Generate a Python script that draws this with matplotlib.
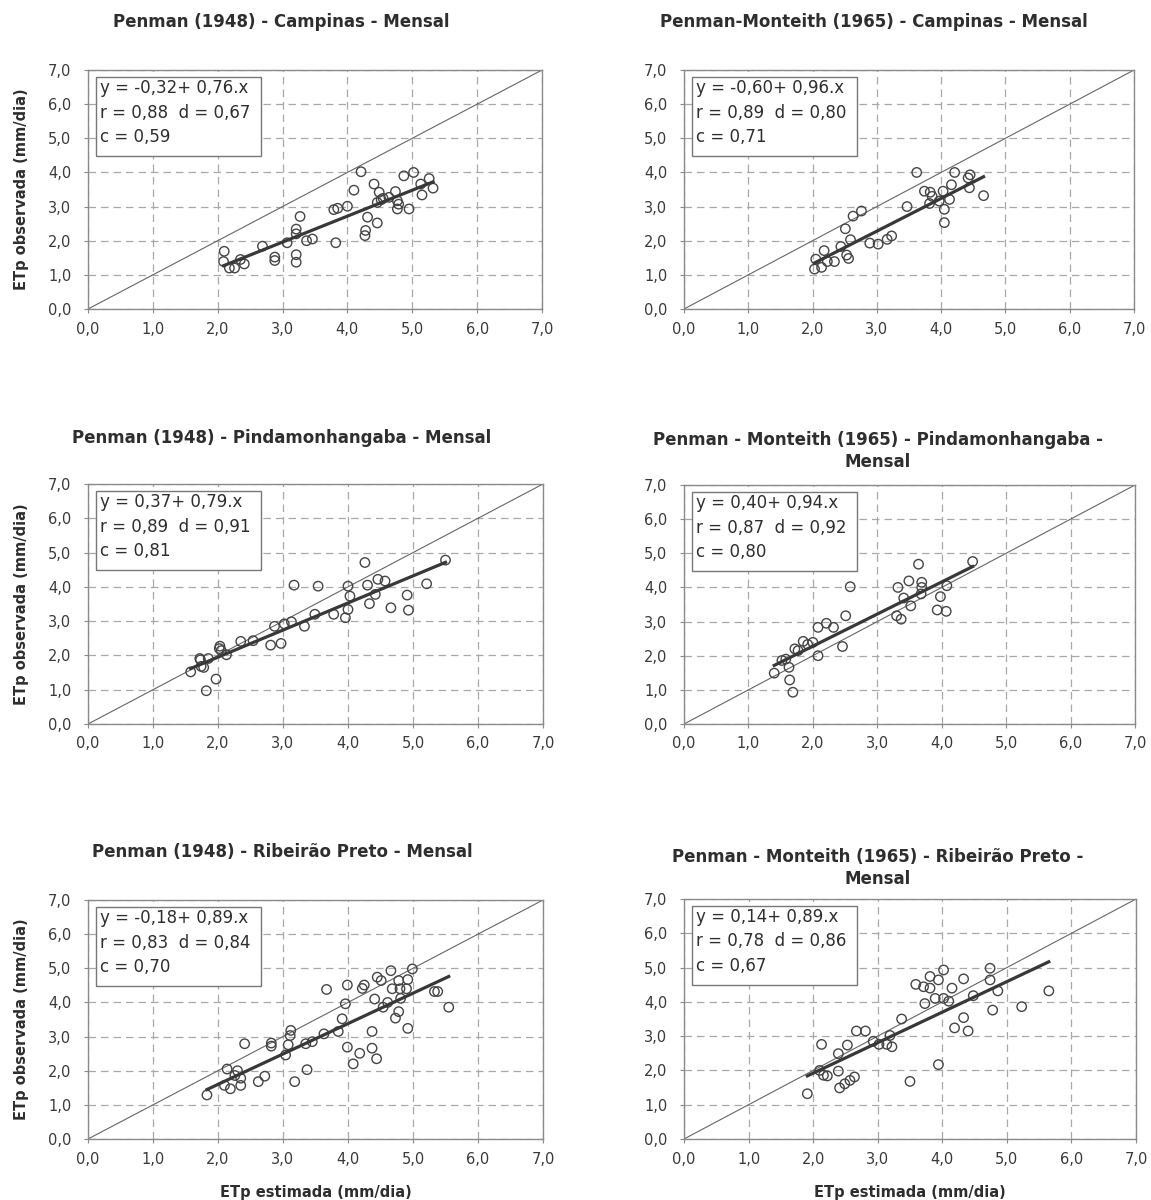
import numpy as np
import matplotlib.pyplot as plt
from matplotlib.patches import Rectangle

# data (ETp estimada x ETp observada, mm/dia)
p1_x = [2.10, 2.09, 2.18, 2.26, 2.35, 2.41, 2.69, 2.88, 2.88, 3.07, 3.21, 3.21, 3.27, 3.21, 3.21,
        3.37, 3.46, 3.82, 3.79, 3.85, 4.00, 4.10, 4.21, 4.31, 4.28, 4.27, 4.46, 4.41, 4.49, 4.55,
        4.46, 4.64, 4.74, 4.77, 4.77, 4.95, 4.87, 5.02, 5.15, 5.13, 5.26, 5.32, 4.79, 4.52]
p1_y = [1.69, 1.39, 1.20, 1.20, 1.45, 1.32, 1.84, 1.52, 1.42, 1.94, 2.34, 2.20, 2.71, 1.59, 1.37,
        2.00, 2.05, 1.94, 2.91, 2.95, 3.01, 3.48, 4.02, 2.69, 2.30, 2.15, 2.52, 3.66, 3.42, 3.24,
        3.12, 3.27, 3.44, 3.17, 2.93, 2.93, 3.90, 4.00, 3.34, 3.66, 3.82, 3.54, 3.07, 3.20]

p2_x = [2.03, 2.14, 2.05, 2.18, 2.23, 2.34, 2.44, 2.53, 2.56, 2.59, 2.51, 2.63, 2.76, 2.89, 3.02,
        3.16, 3.23, 3.47, 3.62, 3.74, 3.83, 3.82, 3.97, 4.03, 4.05, 4.05, 4.13, 4.16, 4.21, 4.42,
        4.45, 4.44, 4.66, 3.86]
p2_y = [1.17, 1.22, 1.46, 1.71, 1.39, 1.39, 1.83, 1.58, 1.48, 2.03, 2.35, 2.72, 2.87, 1.93, 1.90,
        2.04, 2.14, 3.00, 4.00, 3.45, 3.42, 3.09, 3.16, 3.45, 2.92, 2.53, 3.21, 3.64, 4.00, 3.84,
        3.93, 3.55, 3.32, 3.30]

p3_x = [1.58, 1.74, 1.72, 1.85, 1.82, 1.97, 2.03, 2.05, 2.13, 2.35, 2.54, 2.81, 2.97, 2.87, 3.02,
        3.13, 3.17, 3.33, 3.49, 3.54, 3.78, 3.96, 4.00, 4.03, 4.00, 4.26, 4.30, 4.33, 4.42, 4.46,
        4.57, 4.66, 4.91, 4.93, 5.21, 5.50, 1.73, 1.78, 2.02]
p3_y = [1.52, 1.68, 1.91, 1.91, 0.97, 1.31, 2.27, 2.14, 2.02, 2.41, 2.43, 2.30, 2.35, 2.85, 2.92,
        2.98, 4.05, 2.85, 3.20, 4.02, 3.20, 3.10, 3.34, 3.73, 4.02, 4.71, 4.05, 3.51, 3.78, 4.22,
        4.17, 3.39, 3.76, 3.32, 4.09, 4.78, 1.87, 1.65, 2.20]

p4_x = [1.40, 1.52, 1.63, 1.64, 1.69, 1.72, 1.85, 2.00, 2.08, 2.21, 2.32, 2.08, 2.46, 2.51, 2.58,
        3.30, 3.37, 3.32, 3.41, 3.52, 3.49, 3.64, 3.69, 3.69, 3.68, 3.93, 4.07, 3.98, 4.08, 4.48,
        1.77, 1.92, 1.58]
p4_y = [1.49, 1.86, 1.66, 1.29, 0.93, 2.20, 2.42, 2.39, 2.83, 2.95, 2.83, 2.00, 2.27, 3.17, 4.02,
        3.17, 3.07, 4.00, 3.69, 3.46, 4.19, 4.68, 4.15, 4.00, 3.81, 3.34, 3.30, 3.73, 4.05, 4.76,
        2.15, 2.33, 1.90]

p5_x = [1.83, 2.14, 2.10, 2.19, 2.30, 2.35, 2.35, 2.26, 2.41, 2.62, 2.72, 2.82, 2.82, 3.12, 3.11,
        3.04, 3.08, 3.18, 3.35, 3.37, 3.45, 3.63, 3.67, 3.85, 3.91, 3.96, 3.99, 3.99, 4.08, 4.18,
        4.22, 4.25, 4.37, 4.37, 4.44, 4.41, 4.45, 4.51, 4.54, 4.66, 4.68, 4.73, 4.78, 4.78, 4.80,
        4.81, 4.92, 4.90, 4.92, 4.99, 5.33, 5.38, 5.55, 4.61]
p5_y = [1.29, 2.05, 1.57, 1.47, 2.00, 1.78, 1.57, 1.86, 2.79, 1.68, 1.84, 2.81, 2.72, 3.18, 3.03,
        2.46, 2.76, 1.68, 2.79, 2.03, 2.85, 3.08, 4.38, 3.15, 3.52, 3.96, 4.51, 2.69, 2.20, 2.51,
        4.41, 4.51, 3.15, 2.66, 2.35, 4.10, 4.74, 4.64, 3.86, 4.93, 4.40, 3.54, 3.73, 4.64, 4.40,
        4.12, 4.67, 4.40, 3.24, 4.98, 4.32, 4.32, 3.86, 4.00]

p6_x = [1.91, 2.13, 2.10, 2.16, 2.22, 2.39, 2.39, 2.41, 2.49, 2.57, 2.64, 2.53, 2.67, 2.81, 2.93,
        3.02, 3.14, 3.22, 3.19, 3.37, 3.50, 3.59, 3.71, 3.81, 3.81, 3.94, 4.02, 3.73, 3.89, 4.02,
        4.10, 3.94, 4.15, 4.33, 4.19, 4.33, 4.40, 4.48, 4.74, 4.74, 4.86, 4.78, 5.23, 5.65]
p6_y = [1.32, 2.76, 2.00, 1.86, 1.84, 2.49, 1.98, 1.49, 1.61, 1.71, 1.81, 2.74, 3.15, 3.15, 2.85,
        2.76, 2.76, 2.69, 3.02, 3.50, 1.68, 4.51, 4.44, 4.74, 4.40, 4.64, 4.93, 3.95, 4.10, 4.10,
        4.02, 2.17, 4.40, 4.67, 3.24, 3.54, 3.15, 4.18, 4.98, 4.64, 4.32, 3.76, 3.86, 4.32]

titles = ["Penman (1948) - Campinas - Mensal",
          "Penman-Monteith (1965) - Campinas - Mensal",
          "Penman (1948) - Pindamonhangaba - Mensal",
          "Penman - Monteith (1965) - Pindamonhangaba -\nMensal",
          "Penman (1948) - Ribeirão Preto - Mensal",
          "Penman - Monteith (1965) - Ribeirão Preto -\nMensal"]
intercepts = [-0.32, -0.60, 0.37, 0.40, -0.18, 0.14]
slopes = [0.76, 0.96, 0.79, 0.94, 0.89, 0.89]
r_vals = [0.88, 0.89, 0.89, 0.87, 0.83, 0.78]
d_vals = [0.67, 0.80, 0.91, 0.92, 0.84, 0.86]
c_vals = [0.59, 0.71, 0.81, 0.80, 0.70, 0.67]
ticks = [0, 1, 2, 3, 4, 5, 6, 7]
tick_labels = ['0,0', '1,0', '2,0', '3,0', '4,0', '5,0', '6,0', '7,0']
ylabel = "ETp observada (mm/dia)"
xlabel = "ETp estimada (mm/dia)"

xs = [p1_x, p2_x, p3_x, p4_x, p5_x, p6_x]
ys = [p1_y, p2_y, p3_y, p4_y, p5_y, p6_y]

plt.rcParams['font.family'] = ['DejaVu Sans']


def br(v):
    return ('%.2f' % v).replace('.', ',')


W, H = 1151, 1200
fig = plt.figure(figsize=(W / 100, H / 100), dpi=100)
fig.patch.set_facecolor('white')

# axes boxes in pixels: left, top, width, height
boxes = [(88, 70, 454, 239), (684, 70, 450, 239),
         (88, 484, 455, 240), (684, 485, 451, 239),
         (88, 900, 455, 239), (684, 899, 452, 240)]
# title centres in pixels
title_pos = [(281, 22), (874, 22), (282, 438), (878, 451), (282, 852), (878, 868)]

txt_col = '#2e2e2e'
for i in range(6):
    l, t, w, h = boxes[i]
    ax = fig.add_axes([l / W, 1 - (t + h) / H, w / W, h / H])
    ax.set_xlim(0, 7)
    ax.set_ylim(0, 7)
    ax.grid(True, color='#a8a8a8', linestyle=(0, (6, 4)), linewidth=0.9)
    ax.set_axisbelow(True)
    for s in ax.spines.values():
        s.set_color('#8a8a8a')
        s.set_linewidth(1.0)
    ax.set_xticks(ticks)
    ax.set_yticks(ticks)
    ax.set_xticklabels(tick_labels)
    ax.set_yticklabels(tick_labels)
    ax.tick_params(axis='both', length=3, color='#8a8a8a', labelsize=10.5, labelcolor='#3a3a3a')
    ax.tick_params(axis='y', pad=9)
    ax.tick_params(axis='x', pad=6)

    # 1:1 line
    ax.plot([0, 7], [0, 7], color='#666666', linewidth=0.8)
    x = np.array(xs[i])
    y = np.array(ys[i])
    ax.scatter(x, y, s=46, facecolors='none', edgecolors='#454545', linewidths=1.0, zorder=3)
    # regression line
    xr = np.array([x.min(), x.max()])
    ax.plot(xr, intercepts[i] + slopes[i] * xr, color='#383838', linewidth=2.3, zorder=4)

    # stats box
    ax.add_patch(Rectangle((8 / w, 1 - 86 / h), 165 / w, 79 / h, transform=ax.transAxes,
                           facecolor='white', edgecolor='#777777', linewidth=1.0, zorder=5))
    lines = ["y = %s+ %s.x" % (br(intercepts[i]), br(slopes[i])),
             "r = %s  d = %s" % (br(r_vals[i]), br(d_vals[i])),
             "c = %s" % br(c_vals[i])]
    for k, line in enumerate(lines):
        ax.text(12 / w, 1 - (18 + 24.5 * k) / h, line, transform=ax.transAxes,
                fontsize=12, color=txt_col, va='center', ha='left', zorder=6)

    tx, ty = title_pos[i]
    fig.text(tx / W, 1 - ty / H, titles[i], fontsize=12, fontweight='bold', color=txt_col,
             ha='center', va='center', linespacing=1.35)

    if i % 2 == 0:
        fig.text(22 / W, 1 - (t + h / 2) / H, ylabel, rotation=90, fontsize=10.5,
                 fontweight='bold', color=txt_col, ha='center', va='center')
    if i >= 4:
        fig.text((l + w / 2) / W, 1 - 1192 / H, xlabel, fontsize=10.5,
                 fontweight='bold', color=txt_col, ha='center', va='center')

fig.savefig('out.png', dpi=100, facecolor='white')
